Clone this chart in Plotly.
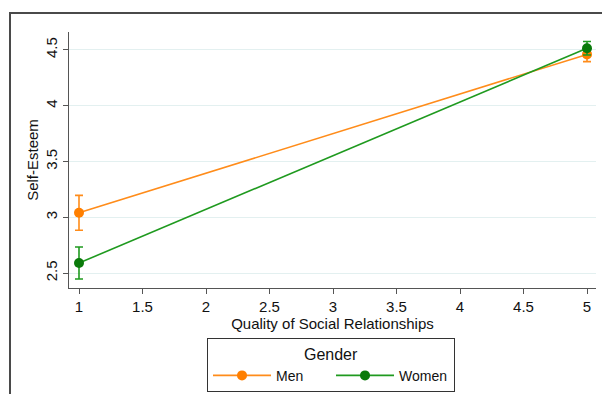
import plotly.graph_objects as go

# Data
quality = [1, 5]
men_mean = [3.04, 4.46]
men_err = [0.156, 0.065]
women_mean = [2.59, 4.515]
women_err = [0.143, 0.06]
x_ticks = [1, 1.5, 2, 2.5, 3, 3.5, 4, 4.5, 5]
x_tick_labels = ["1", "1.5", "2", "2.5", "3", "3.5", "4", "4.5", "5"]
y_ticks = [2.5, 3, 3.5, 4, 4.5]
y_tick_labels = ["2.5", "3", "3.5", "4", "4.5"]

ORANGE_L = "#ff8c1a"
ORANGE_M = "#ff7f00"
GREEN_L = "#1f9a1f"
GREEN_M = "#0a7a0a"

fig = go.Figure()
fig.add_trace(go.Scatter(
    x=quality, y=men_mean, name="Men", mode="lines+markers",
    line=dict(color=ORANGE_L, width=1.6),
    marker=dict(color=ORANGE_M, size=10),
    error_y=dict(type="data", array=men_err, visible=True,
                 color=ORANGE_L, thickness=1.6, width=4),
))
fig.add_trace(go.Scatter(
    x=quality, y=women_mean, name="Women", mode="lines+markers",
    line=dict(color=GREEN_L, width=1.6),
    marker=dict(color=GREEN_M, size=10),
    error_y=dict(type="data", array=women_err, visible=True,
                 color=GREEN_L, thickness=1.6, width=4),
))

# page body has an 8px margin; figure sized so page fits the window
OFF = 8
W, H = 610 - 2 * OFF, 402 - 2 * OFF
# plot area in screen pixels
SX0, SX1, SY0, SY1 = 69, 596, 32, 288
L, T = SX0 - OFF, SY0 - OFF
R, B = W - (SX1 - OFF), H - (SY1 - OFF)
pw, ph = SX1 - SX0, SY1 - SY0

def px_x(px):
    return (px - SX0) / pw

def px_y(py):
    return (SY1 - py) / ph

fig.add_shape(type="rect", xref="paper", yref="paper",
              x0=px_x(10), x1=px_x(640), y0=px_y(440), y1=px_y(13),
              line=dict(color="#4a4a4a", width=2), fillcolor="rgba(0,0,0,0)",
              layer="below")

fig.update_layout(
    width=W, height=H,
    margin=dict(l=L, r=R, t=T, b=B, autoexpand=False),
    paper_bgcolor="white", plot_bgcolor="white",
    font=dict(family="Liberation Sans, Arial, sans-serif", color="#111", size=15),
    showlegend=True,
    legend=dict(
        title=dict(text="Gender", side="top center", font=dict(size=16)),
        orientation="h",
        x=px_x(207), y=px_y(338), xanchor="left", yanchor="top",
        bordercolor="#333", borderwidth=1, bgcolor="white",
        font=dict(size=14),
        itemwidth=58,
        entrywidth=50,
    ),
    xaxis=dict(
        range=[1 - 10 / 127, 5 + 9 / 127],
        tickmode="array", tickvals=x_ticks, ticktext=x_tick_labels,
        showgrid=False, zeroline=False,
        showline=True, linecolor="#555", linewidth=1.2,
        ticks="outside", ticklen=5, tickcolor="#555",
        title=dict(text="Quality of Social Relationships", standoff=1, font=dict(size=15)),
        tickfont=dict(size=15),
    ),
    yaxis=dict(
        range=[2.5 - 15 / 112, 4.5 + 18 / 112],
        tickmode="array", tickvals=y_ticks, ticktext=y_tick_labels,
        showgrid=True, gridcolor="#e3f0f0", gridwidth=1.2, zeroline=False,
        showline=True, linecolor="#555", linewidth=1.2,
        ticks="outside", ticklen=5, tickcolor="#555",
        tickangle=-90,
        title=dict(text="Self-Esteem", standoff=0, font=dict(size=15)),
        tickfont=dict(size=15),
    ),
)

fig.write_html("out.html")
